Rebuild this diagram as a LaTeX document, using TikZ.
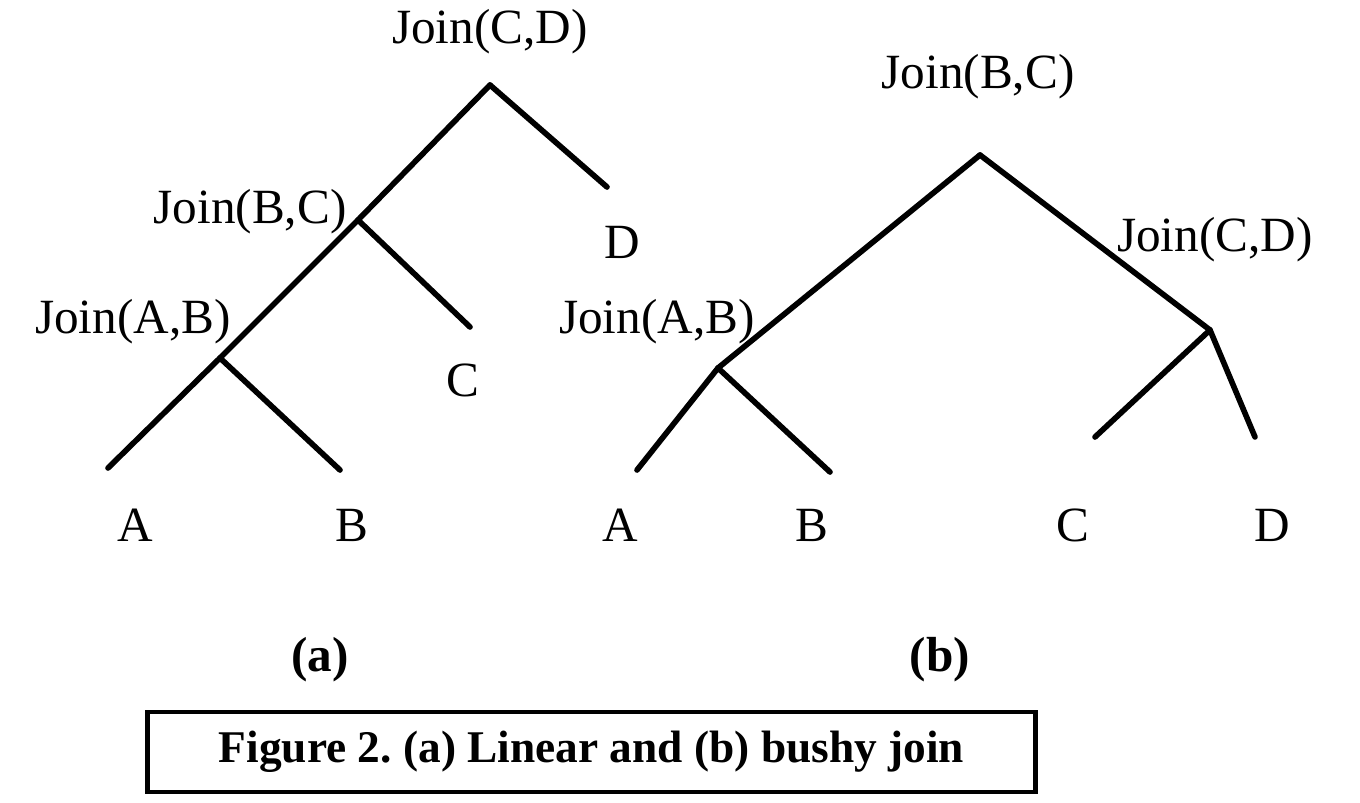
\documentclass[tikz,border=0pt]{standalone}
\usepackage{fontspec}
\setmainfont{Liberation Serif}
\usetikzlibrary{positioning}
\tikzset{
  lbl/.style={inner sep=1pt,font=\fontsize{14}{16}\selectfont},
  sub/.style={inner sep=1pt,font=\fontsize{14}{16}\selectfont\bfseries},
  branch/.style={line width=1.6pt,line cap=round}
}

\begin{document}
\frenchspacing
\begin{tikzpicture}[x=0.01cm,y=-0.01cm]
\useasboundingbox (0,0) rectangle (1360,802);
% (a) linear join
\coordinate (ra) at (490,85);
\coordinate (jbc) at (358,220);
\coordinate (jab) at (220,358);
\coordinate (ea) at (108,468);
\coordinate (eb) at (340,470);
\coordinate (ec) at (470,327);
\coordinate (ed) at (607,187);
\node[lbl] (lcd) at (490,32) {Join(C,D)};
\node[lbl] (lbc) at (250,212) {Join(B,C)};
\node[lbl] (lab) at (133,322) {Join(A,B)};
\node[lbl] (la) at (135,525) {A};
\node[lbl] (lb) at (352,525) {B};
\node[lbl] (lc) at (463,380) {C};
\node[lbl] (ld) at (622,242) {D};
\foreach \x/\y in {ra/jbc,jbc/jab,jab/ea,jab/eb,jbc/ec,ra/ed} \draw[branch] (\x)--(\y);
% (b) bushy join
\coordinate (rb) at (980,155);
\coordinate (kab) at (718,368);
\coordinate (kcd) at (1210,330);
\coordinate (fa) at (637,470);
\coordinate (fb) at (830,472);
\coordinate (fc) at (1095,437);
\coordinate (fd) at (1255,437);
\node[lbl] (mbc) at (978,77) {Join(B,C)};
\node[lbl] (mcd) at (1215,240) {Join(C,D)};
\node[lbl] (mab) at (657,322) {Join(A,B)};
\node[lbl] (ma) at (620,525) {A};
\node[lbl] (mb) at (812,525) {B};
\node[lbl] (mc) at (1073,525) {C};
\node[lbl] (md) at (1272,525) {D};
\foreach \x/\y in {rb/kab,kab/fa,kab/fb,rb/kcd,kcd/fc,kcd/fd} \draw[branch] (\x)--(\y);
% sub captions and figure caption
\node[sub] (sa) at (320,660) {(a)};
\node[sub] (sb) at (940,660) {(b)};
\node[draw,line width=1.3pt,minimum width=8.87cm,minimum height=0.8cm,font=\fontsize{12.9}{15}\selectfont\bfseries] (cap) at (591.5,752) {Figure 2. (a) Linear and (b) bushy join};
\end{tikzpicture}
\end{document}
